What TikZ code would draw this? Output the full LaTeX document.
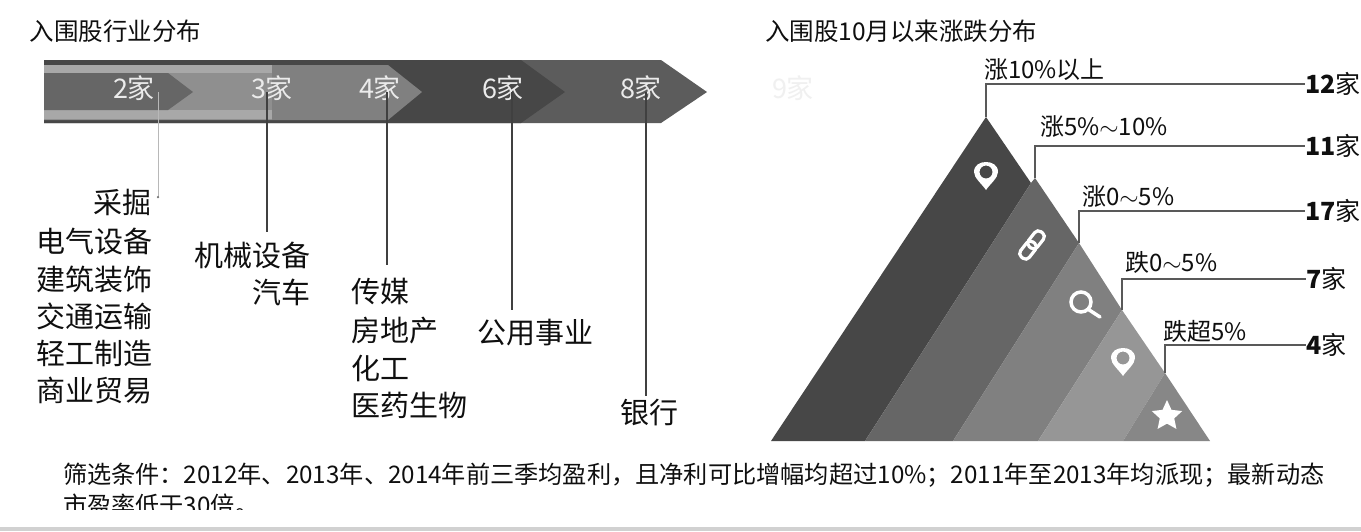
\documentclass[tikz,border=0pt]{standalone}
\usepackage{fontspec}
\setmainfont{Noto Sans CJK SC}
\usetikzlibrary{shapes.geometric}
\definecolor{gA}{gray}{0.28}
\definecolor{gB}{gray}{0.40}
\definecolor{gC}{gray}{0.50}
\definecolor{gD}{gray}{0.59}
\definecolor{gE}{gray}{0.53}
\definecolor{gF}{gray}{0.36}
\definecolor{gL}{gray}{0.56}
\definecolor{gS}{gray}{0.66}
\definecolor{ink}{gray}{0.06}
\newcommand{\fs}[1]{\fontsize{#1}{#1}\selectfont}
\newcommand{\pinmark}[2]{\fill[white,even odd rule,shift={(#1,#2)}]
  (0,14) .. controls (-4,8) and (-12,2) .. (-12,-4)
  .. controls (-12,-11) and (-6,-14) .. (0,-14)
  .. controls (6,-14) and (12,-11) .. (12,-4)
  .. controls (12,2) and (4,8) .. (0,14) -- cycle
  (0,-4) circle[radius=6.5];}
\tikzset{
  x=1pt,y=-1pt,
  every node/.style={inner sep=0pt,outer sep=0pt,text=ink},
  title/.style={anchor=west,font=\fs{24.5}},
  item/.style={anchor=west,font=\fs{29}},
  itemr/.style={anchor=east,font=\fs{29}},
  band/.style={anchor=center,text=white!92!black,font=\fs{27}},
  tag/.style={anchor=west,font=\fs{24}},
  count/.style={anchor=west,font=\fs{25}},
  stem/.style={draw=black!75,line width=1.1pt},
  thinstem/.style={draw=black!28,line width=0.9pt},
  leader/.style={draw=black!65,line width=1.3pt},
  tip/.style={circle,fill=black!55,minimum size=2.5pt},
}
\begin{document}
\begin{tikzpicture}
\useasboundingbox (0,0) rectangle (1361,531);
\fill[white] (0,0) rectangle (1361,531);
% titles
\node[title] (t1) at (30,31) {入围股行业分布};
\node[title] (t2) at (765,31) {入围股10月以来涨跌分布};
% chevron band
\fill[gF] (44,60) -- (661,60) -- (707,92) -- (661,123) -- (44,123) -- cycle;
\fill[gA] (44,60) -- (521,60) -- (565,92) -- (521,123) -- (44,123) -- cycle;
\fill[gC] (44,65) -- (388,65) -- (422,92) -- (388,120) -- (44,120) -- cycle;
\fill[gL] (44,65) rectangle (272,120);
\fill[gS] (44,65) rectangle (272,73);
\fill[gS] (44,110) rectangle (272,119);
\fill[gB] (44,73) -- (168,73) -- (193,92) -- (168,110) -- (44,110) -- cycle;
% ends of the drop lines
\coordinate (u2) at (158,92);
\coordinate (u3) at (267,92);
\coordinate (u4) at (387,92);
\coordinate (u6) at (512,92);
\coordinate (u8) at (646,92);
\coordinate (d2) at (158,197);
\coordinate (d3) at (267,232);
\coordinate (d4) at (387,265);
\coordinate (d6) at (512,310);
\coordinate (d8) at (646,396);
% band labels
\node[band] (n2) at (134,88) {2家};
\node[band] (n3) at (272,88) {3家};
\node[band] (n4) at (380,88) {4家};
\node[band] (n6) at (503,88) {6家};
\node[band] (n8) at (641,88) {8家};
\draw[thinstem] (u2) -- (d2);
\draw[stem] (u3) -- (d3);
\draw[stem] (u4) -- (d4);
\draw[stem] (u6) -- (d6);
\draw[stem] (u8) -- (d8);
\node[tip] (p2) at (d2) {};
% lists
\node[itemr] (a1) at (151,203) {采掘};
\node[itemr] (a2) at (152,241) {电气设备};
\node[itemr] (a3) at (152,279) {建筑装饰};
\node[itemr] (a4) at (152,316) {交通运输};
\node[itemr] (a5) at (152,353) {轻工制造};
\node[itemr] (a6) at (152,390) {商业贸易};
\node[itemr] (b1) at (310,255) {机械设备};
\node[itemr] (b2) at (310,292) {汽车};
\node[item] (c1) at (351,291) {传媒};
\node[item] (c2) at (351,331) {房地产};
\node[item] (c3) at (351,368) {化工};
\node[item] (c4) at (351,405) {医药生物};
\node[item] (e1) at (477,333) {公用事业};
\node[item] (f1) at (620,413) {银行};
\node[anchor=center,font=\fs{27},text=black!6] (ghost) at (793,88) {9家};
% triangle
\coordinate (s0) at (986,117);
\coordinate (s1) at (1035,178);
\coordinate (s2) at (1079,243);
\coordinate (s3) at (1122,310);
\coordinate (s4) at (1165,373);
\fill[gA] (s0) -- (1031,183) -- (865,441) -- (771,441) -- cycle;
\fill[gB] (s1) -- (s2) -- (953,441) -- (865,441) -- (1031,183) -- cycle;
\fill[gC] (s2) -- (s3) -- (1038,441) -- (953,441) -- cycle;
\fill[gD] (s3) -- (s4) -- (1123,441) -- (1038,441) -- cycle;
\fill[gE] (s4) -- (1210,441) -- (1123,441) -- cycle;
% icons
\pinmark{986}{176}
\pinmark{1123}{362}
\begin{scope}[shift={(1032,245)},rotate=52,line width=3.2pt,white]
  \draw[rounded corners=4.5pt] (-16,-5.5) rectangle (3,5.5);
  \draw[rounded corners=4.5pt] (-3,-5.5) rectangle (16,5.5);
\end{scope}
\draw[white,line width=3.5pt] (1081,302) circle[radius=10];
\draw[white,line width=3.5pt,line cap=round] (1088.5,309.5) -- (1100,317);
\node[star,star points=5,star point ratio=2.1,fill=white,minimum size=32pt] (st) at (1167,416) {};
% counts and tags
\node[count] (k1) at (1305,84) {\textbf{12}家};
\node[count] (k2) at (1305,146) {\textbf{11}家};
\node[count] (k3) at (1305,211) {\textbf{17}家};
\node[count] (k4) at (1306,279) {\textbf{7}家};
\node[count] (k5) at (1306,345) {\textbf{4}家};
\draw[leader] (s0) |- (k1.west);
\draw[leader] (s1) |- (k2.west);
\draw[leader] (s2) |- (k3.west);
\draw[leader] (s3) |- (k4.west);
\draw[leader] (s4) |- (k5.west);
\node[tag] (g1) at (984,70) {涨10\%以上};
\node[tag] (g2) at (1040,127) {涨5\%$\sim$10\%};
\node[tag] (g3) at (1082,197) {涨0$\sim$5\%};
\node[tag] (g4) at (1125,262) {跌0$\sim$5\%};
\node[tag] (g5) at (1163,331) {跌超5\%};
% footnote
\node[anchor=west,font=\fs{24.2}] (fa) at (63,475) {筛选条件：2012年、2013年、2014年前三季均盈利，且净利可比增幅均超过10\%；2011年至2013年均派现；最新动态};
\node[anchor=west,font=\fs{24.2}] (fb) at (63,505) {市盈率低于30倍。};
\fill[white] (0,510) rectangle (1361,527);
\fill[black!18] (0,527) rectangle (1361,531);
\end{tikzpicture}
\end{document}
